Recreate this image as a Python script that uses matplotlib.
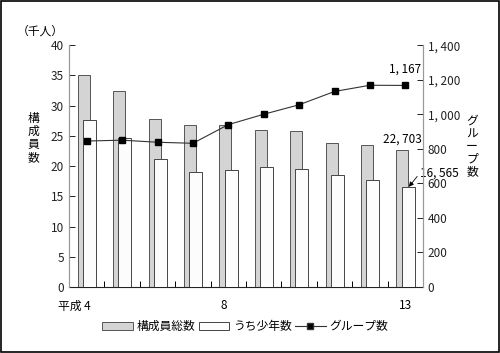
import numpy as np
import matplotlib
matplotlib.use("Agg")
import matplotlib.pyplot as plt
from matplotlib.ticker import FuncFormatter
from matplotlib.patches import Patch, Rectangle
from matplotlib.lines import Line2D

plt.rcParams["font.family"] = ["Noto Sans CJK JP", "DejaVu Sans"]

# ── Data ──────────────────────────────────────────────────────────────
years = ["平成 4", "5", "6", "7", "8", "9", "10", "11", "12", "13"]
shown_labels = {0: "平成 4", 4: "8", 9: "13"}
members = [35.0, 32.4, 27.8, 26.8, 26.8, 26.0, 25.8, 23.8, 23.5, 22.703]   # 千人
juveniles = [27.6, 24.6, 21.1, 19.1, 19.3, 19.9, 19.5, 18.5, 17.7, 16.565]  # 千人
groups = [845, 850, 838, 832, 940, 1000, 1055, 1132, 1168, 1167]

# ── Plot ──────────────────────────────────────────────────────────────
fig = plt.figure(figsize=(5.0, 3.53), dpi=100)
fig.patches.append(Rectangle((0.002, 0.003), 0.996, 0.994, transform=fig.transFigure,
                             fill=False, edgecolor="black", linewidth=1.2))
ax = fig.add_axes([0.138, 0.187, 0.708, 0.685])
ax2 = ax.twinx()

x = np.arange(len(years))
ax.bar(x - 0.08, members, width=0.34, color="#d4d4d4", edgecolor="#555555",
       linewidth=0.7, zorder=2)
ax.bar(x + 0.08, juveniles, width=0.37, color="#fcfcfc", edgecolor="#444444",
       linewidth=0.7, zorder=3)

ax2.plot(x, groups, color="#333333", linewidth=0.8, marker="s", markersize=4.5,
         markerfacecolor="black", markeredgecolor="black", zorder=5)

ax.set_xlim(-0.5, len(years) - 0.5)
ax.set_ylim(0, 40)
ax.set_yticks(range(0, 41, 5))
ax2.set_ylim(0, 1400)
ax2.set_yticks(range(0, 1401, 200))
ax2.yaxis.set_major_formatter(FuncFormatter(lambda v, p: f"{int(v):,}".replace(",", ", ")))

ax.set_xticks(np.arange(len(years) + 1) - 0.5)
ax.set_xticklabels([])
ax.tick_params(axis="x", which="major", direction="in", length=4, width=0.7)
for i, lab in shown_labels.items():
    ax.annotate(lab, (x[i], 0), xycoords=("data", "axes fraction"),
                xytext=(3 if i == 0 else (-3 if i == 4 else 0), -9),
                textcoords="offset points", ha="right" if i == 0 else "center",
                va="top", fontsize=8.5)
ax.tick_params(axis="y", direction="in", length=4, width=0.7, labelsize=8.5, colors="#222222")
ax2.tick_params(axis="y", direction="in", length=4, width=0.7, labelsize=8.5, colors="#222222")

for a in (ax, ax2):
    a.spines["top"].set_visible(False)
    a.spines["left"].set_color("#999999")
    a.spines["right"].set_color("#999999")
    a.spines["bottom"].set_color("#222222")
ax2.spines["bottom"].set_visible(False)

# Axis titles
fig.text(0.08, 0.912, "（千人）", fontsize=8.5, ha="center", va="center")
fig.text(0.066, 0.61, "構\n成\n員\n数", fontsize=8.5, ha="center", va="center", linespacing=1.0)
fig.text(0.944, 0.585, "グ\nル\nー\nプ\n数", fontsize=8.5, ha="center", va="center", linespacing=0.95)

# Value annotations
ax2.annotate("1, 167", (x[-1], groups[-1]), xytext=(0, 7), textcoords="offset points",
             ha="center", va="bottom", fontsize=8.5)
ax.annotate("22, 703", (x[-1] - 0.08, members[-1]), xytext=(0, 3), textcoords="offset points",
            ha="center", va="bottom", fontsize=8.5)
ax.annotate("16, 565", (x[-1] + 0.1, juveniles[-1]), xytext=(8, 10), textcoords="offset points",
            ha="left", va="center", fontsize=8.5,
            arrowprops=dict(arrowstyle="-|>", color="black", lw=0.6, mutation_scale=7,
                            shrinkA=0, shrinkB=0, relpos=(0, 0.5)))

# Legend
handles = [
    Patch(facecolor="#d4d4d4", edgecolor="#555555", linewidth=0.7, label="構成員総数"),
    Patch(facecolor="#fcfcfc", edgecolor="#444444", linewidth=0.7, label="うち少年数"),
    Line2D([0], [0], color="#333333", linewidth=0.8, marker="s", markersize=4,
           markerfacecolor="black", label="グループ数"),
]
fig.legend(handles=handles, loc="center", bbox_to_anchor=(0.49, 0.075), ncol=3,
           frameon=False, fontsize=8.5, handlelength=2.6, handleheight=0.6,
           handletextpad=0.3, columnspacing=0.3)

fig.savefig("out.png", dpi=100)
